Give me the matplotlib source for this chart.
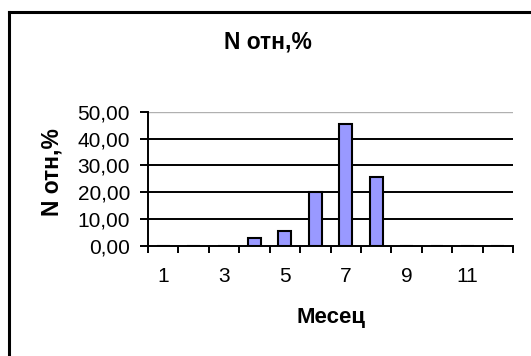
import matplotlib
matplotlib.use("Agg")
import matplotlib.pyplot as plt
from matplotlib.lines import Line2D

months = [1, 2, 3, 4, 5, 6, 7, 8, 9, 10, 11, 12]
n_rel = [0, 0, 0, 2.9, 5.6, 20.0, 45.6, 25.6, 0, 0, 0, 0]
y_ticks = [0, 10, 20, 30, 40, 50]
y_tick_labels = ["0,00", "10,00", "20,00", "30,00", "40,00", "50,00"]
x_label_months = [1, 3, 5, 7, 9, 11]
title = "N отн,%"
y_title = "N отн,%"
x_title = "Месец"

plt.rcParams['font.family'] = ['Liberation Sans', 'DejaVu Sans']

W, H = 531, 356
fig = plt.figure(figsize=(W / 100, H / 100), dpi=100)
ax = fig.add_axes([148 / W, 1 - 245.7 / H, (513 - 148) / W, (245.7 - 112) / H])

ax.bar(months, n_rel, width=0.42, color="#9999FF", edgecolor="black", linewidth=1.5, zorder=3)

ax.set_xlim(0.5, 12.5)
ax.set_ylim(0, 50)
ax.set_yticks(y_ticks)
ax.set_yticklabels(y_tick_labels, fontsize=15)
for y in y_ticks[1:-1]:
    ax.axhline(y, color="black", linewidth=1.4, zorder=1)
ax.axhline(50, color="#b0b0b0", linewidth=1.0, zorder=1)

ax.set_xticks([m - 0.5 for m in months] + [12.5])
ax.set_xticklabels([])
ax.set_xticks(x_label_months, minor=True)
ax.set_xticklabels([str(m) for m in x_label_months], minor=True, fontsize=15)
ax.tick_params(axis='x', which='minor', length=0, pad=15)
ax.tick_params(axis='x', which='major', length=5, width=1.4, direction='out')
ax.tick_params(axis='y', length=6, width=1.4, direction='out', pad=7)

for s in ["top", "right"]:
    ax.spines[s].set_visible(False)
ax.spines["left"].set_linewidth(1.4)
ax.spines["bottom"].set_linewidth(1.4)

fig.text(268 / W, 1 - 42 / H, title, ha='center', va='center', fontsize=16.5, fontweight='bold')
fig.text(331 / W, 1 - 317 / H, x_title, ha='center', va='center', fontsize=16, fontweight='bold')
fig.text(52 / W, 1 - 172 / H, y_title, ha='center', va='center', rotation=90, fontsize=16.5, fontweight='bold')

# chart border (clipped at right and bottom)
fig.add_artist(Line2D([9 / W, 9 / W], [0, 1 - 11.5 / H], color='black', linewidth=2.2, transform=fig.transFigure))
fig.add_artist(Line2D([9 / W, 1], [1 - 11.5 / H, 1 - 11.5 / H], color='black', linewidth=2.2, transform=fig.transFigure))

fig.savefig("out.png", dpi=100)
